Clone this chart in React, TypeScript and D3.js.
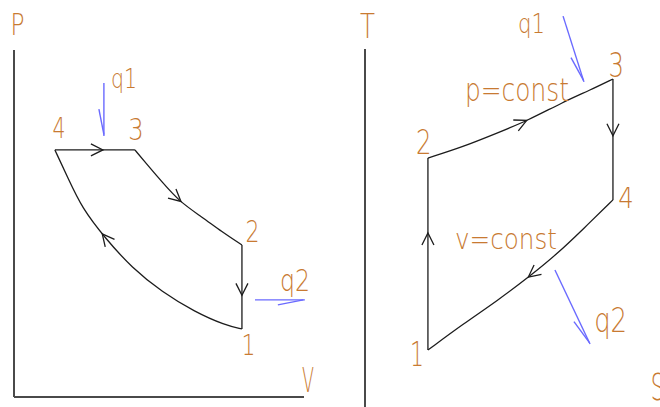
import React, { useRef, useEffect } from "react";
import * as d3 from "d3";

type Pt = [number, number];

// ---- P–V diagram (V, P in arbitrary units) ----
const pvHeatAddition: Pt[] = [[1.41, 7.12], [4.17, 7.12]]; // 4 -> 3
const pvExpansion: Pt[] = [[4.17, 7.12], [4.52, 6.77], [5.1, 6.2], [5.72, 5.62], [6.48, 5.19], [7.17, 4.76], [7.86, 4.38]]; // 3 -> 2
const pvHeatRejection: Pt[] = [[7.86, 4.38], [7.86, 1.96]]; // 2 -> 1
const pvCompression: Pt[] = [[7.86, 1.96], [7.28, 2.07], [6.24, 2.45], [5.1, 3.03], [4.07, 3.72], [3.14, 4.58], [2.34, 5.45], [1.86, 6.31], [1.41, 7.12]]; // 1 -> 4
const pvArrowAt = [0.6, 0.48, 0.6, 0.64];
const pvLabels = ["4", "3", "2", "1", "q1", "q2", "P", "V"];
const pvLabelPos: Pt[] = [[1.55, 7.46], [4.21, 7.41], [8.22, 4.47], [8.09, 1.21], [3.79, 8.9], [9.69, 3.05], [0.12, 10.43], [10.14, 0.14]];
const pvLabelSize = [28, 31, 31, 29, 26, 31, 31, 34];
const pvLabelWidth = [13, 15.5, 14, 14, 26, 30, 14, 12];
const pvHeatArrows: [Pt, Pt][] = [[[3.1, 9.05], [3.1, 7.52]], [[8.31, 2.8], [10.03, 2.8]]];

// ---- T–S diagram (s, T in arbitrary units) ----
const tsHeatAddition: Pt[] = [[2.17, 6.98], [3.38, 7.29], [4.55, 7.67], [5.59, 8.01], [6.83, 8.53], [7.76, 8.86], [8.55, 9.17]]; // 2 -> 3
const tsExpansion: Pt[] = [[8.55, 9.17], [8.55, 5.82]]; // 3 -> 4
const tsHeatRejection: Pt[] = [[8.55, 5.82], [7.52, 5.01], [6.62, 4.32], [5.69, 3.71], [4.55, 3.02], [3.38, 2.38], [2.17, 1.66]]; // 4 -> 1
const tsCompression: Pt[] = [[2.17, 1.66], [2.17, 6.98]]; // 1 -> 2
const tsArrowAt = [0.525, 0.47, 0.48, 0.61];
const tsLabels = ["1", "2", "3", "4", "q1", "q2", "p=const", "v=const", "T", "S"];
const tsLabelPos: Pt[] = [[1.79, 1.22], [2.03, 7.09], [8.66, 9.22], [9.0, 5.6], [5.74, 10.44], [8.47, 2.16], [5.24, 8.56], [4.86, 4.46], [0.09, 10.3], [10.1, 0.28]];
const tsLabelSize = [33, 33, 34, 28, 27, 34, 32, 29, 34, 37];
const tsLabelWidth = [14, 15.5, 15.5, 15.5, 27, 33, 104, 102, 15, 15];
const tsHeatArrows: [Pt, Pt][] = [[[6.83, 10.91], [7.55, 9.09]], [[6.55, 3.88], [7.76, 1.83]]];

const ORANGE = "#c87a32";
const BLUE = "#6a6aff";
const INK = "#1c1c1c";
const AXIS = "#4a4a4a";

export default function App() {
  const ref = useRef<SVGSVGElement | null>(null);

  useEffect(() => {
    const svg = d3.select(ref.current);
    svg.selectAll("*").remove();

    const panels = [
      {
        x: d3.scaleLinear().domain([0, 10]).range([14, 304]),
        y: d3.scaleLinear().domain([0, 10]).range([397, 50]),
        segs: [pvHeatAddition, pvExpansion, pvHeatRejection, pvCompression],
        arrowAt: pvArrowAt,
        labels: pvLabels, pos: pvLabelPos, size: pvLabelSize, width: pvLabelWidth,
        heat: pvHeatArrows,
        axes: [[[0, 0], [0, 10]], [[0, 0], [10, 0]]] as [Pt, Pt][],
      },
      {
        x: d3.scaleLinear().domain([0, 10]).range([365, 655]),
        y: d3.scaleLinear().domain([0, 10]).range([410, 49]),
        segs: [tsHeatAddition, tsExpansion, tsHeatRejection, tsCompression],
        arrowAt: tsArrowAt,
        labels: tsLabels, pos: tsLabelPos, size: tsLabelSize, width: tsLabelWidth,
        heat: tsHeatArrows,
        axes: [[[0, -0.2], [0, 10]]] as [Pt, Pt][],
      },
    ];

    panels.forEach((pn) => {
      const g = svg.append("g");
      // axes
      pn.axes.forEach(([a, b]) => {
        g.append("line")
          .attr("x1", pn.x(a[0])).attr("y1", pn.y(a[1]))
          .attr("x2", pn.x(b[0])).attr("y2", pn.y(b[1]))
          .attr("stroke", AXIS).attr("stroke-width", 2);
      });
      // cycle segments
      const line = d3.line<Pt>()
        .x((d) => pn.x(d[0]))
        .y((d) => pn.y(d[1]))
        .curve(d3.curveBasis);
      pn.segs.forEach((seg, i) => {
        const path = g.append("path")
          .attr("d", line(seg) as string)
          .attr("fill", "none")
          .attr("stroke", INK)
          .attr("stroke-width", 1.3);
        const node = path.node() as SVGPathElement;
        const L = node.getTotalLength();
        const at = L * pn.arrowAt[i];
        const tip = node.getPointAtLength(at);
        const prev = node.getPointAtLength(Math.max(0, at - 2));
        let dx = tip.x - prev.x, dy = tip.y - prev.y;
        const n = Math.hypot(dx, dy) || 1;
        dx /= n; dy /= n;
        const back = 12, side = 6;
        const b1 = [tip.x - dx * back - dy * side, tip.y - dy * back + dx * side];
        const b2 = [tip.x - dx * back + dy * side, tip.y - dy * back - dx * side];
        g.append("path")
          .attr("d", `M${b1[0]},${b1[1]}L${tip.x},${tip.y}L${b2[0]},${b2[1]}`)
          .attr("fill", "none")
          .attr("stroke", INK)
          .attr("stroke-width", 1.3);
      });
      // heat arrows (line with a single-sided barb)
      pn.heat.forEach(([s, e]) => {
        const x1 = pn.x(s[0]), y1 = pn.y(s[1]);
        const x2 = pn.x(e[0]), y2 = pn.y(e[1]);
        g.append("line")
          .attr("x1", x1).attr("y1", y1).attr("x2", x2).attr("y2", y2)
          .attr("stroke", BLUE).attr("stroke-width", 1.4);
        let dx = x2 - x1, dy = y2 - y1;
        const n = Math.hypot(dx, dy) || 1;
        dx /= n; dy /= n;
        const bx = x2 - dx * 27 - dy * 5;
        const by = y2 - dy * 27 + dx * 5;
        g.append("line")
          .attr("x1", bx).attr("y1", by)
          .attr("x2", x2 - dx * 1.5).attr("y2", y2 - dy * 1.5)
          .attr("stroke", BLUE).attr("stroke-width", 1.4);
      });
      // labels
      pn.labels.forEach((t, i) => {
        g.append("text")
          .attr("x", pn.x(pn.pos[i][0]))
          .attr("y", pn.y(pn.pos[i][1]))
          .attr("text-anchor", "middle")
          .attr("font-family", "DejaVu Sans")
          .attr("font-weight", 300)
          .attr("font-size", pn.size[i])
          .attr("textLength", pn.width[i])
          .attr("lengthAdjust", "spacingAndGlyphs")
          .attr("fill", ORANGE)
          .text(t);
      });
    });
  }, []);

  return (
    <svg
      ref={ref}
      width={660}
      height={407}
      style={{ position: "absolute", left: 0, top: 0, background: "#fff" }}
    />
  );
}
